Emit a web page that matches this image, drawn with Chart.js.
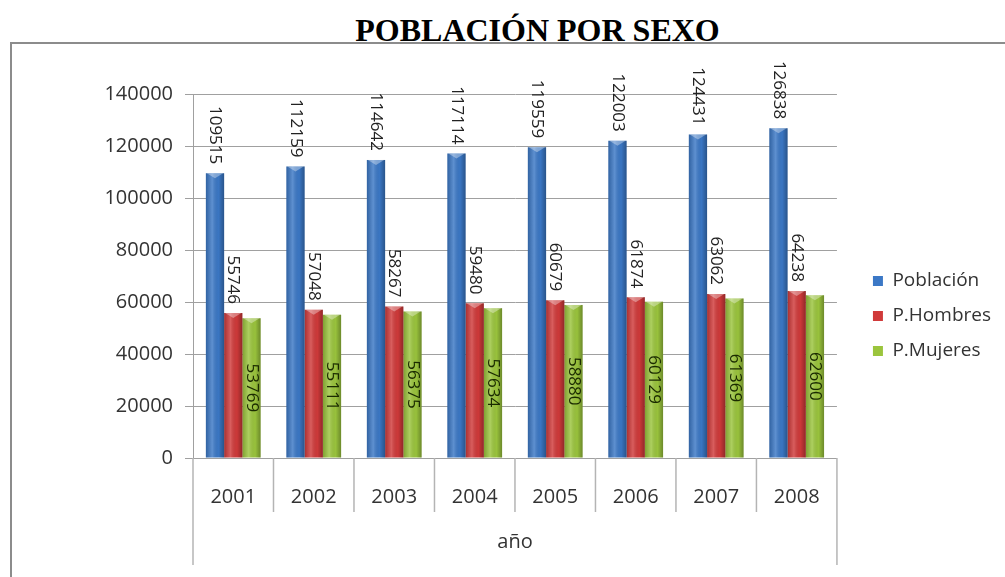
<!DOCTYPE html>
<html>
<head>
<meta charset="utf-8">
<script src="https://cdn.jsdelivr.net/npm/chart.js@4.4.1/dist/chart.umd.min.js"></script>
<style>
  body { margin: 0; background: #fff; width: 1005px; height: 577px; overflow: hidden; position: relative; }
  #title { position: absolute; left: 0; width: 1075px; top: 12px; text-align: center;
    font: bold 32px "Liberation Serif", "Times New Roman", serif; color: #000; }
  #frame { position: absolute; left: 10px; top: 42px; width: 1100px; height: 700px; border: 2px solid #8c8c8c; }
  #wrap { position: absolute; left: 0; top: 45px; width: 1005px; height: 532px; }
</style>
</head>
<body>
<div id="title">POBLACIÓN POR SEXO</div>
<div id="frame"></div>
<div id="wrap"><canvas id="chart"></canvas></div>
<script>
// Datos
const years = ['2001', '2002', '2003', '2004', '2005', '2006', '2007', '2008'];
const poblacion = [109515, 112159, 114642, 117114, 119559, 122003, 124431, 126838];
const hombres = [55746, 57048, 58267, 59480, 60679, 61874, 63062, 64238];
const mujeres = [53769, 55111, 56375, 57634, 58880, 60129, 61369, 62600];
const seriesNames = ['Población', 'P.Hombres', 'P.Mujeres'];
const seriesColors = ['#3b78c6', '#d03a3a', '#9bc53d'];

const font = '"Open Sans", "DejaVu Sans", sans-serif';

// shading for the cylinder look + value labels
const barStyle = {
    id: 'barStyle',
    afterDatasetsDraw(chart) {
        const ctx = chart.ctx;
        chart.data.datasets.forEach((ds, di) => {
            const meta = chart.getDatasetMeta(di);
            meta.data.forEach((bar, i) => {
                const l = bar.x - bar.width / 2, r = bar.x + bar.width / 2;
                const t = bar.y, b = bar.base;
                const g = ctx.createLinearGradient(l, 0, r, 0);
                g.addColorStop(0, 'rgba(0,0,0,0.18)');
                g.addColorStop(0.35, 'rgba(255,255,255,0.18)');
                g.addColorStop(0.7, 'rgba(0,0,0,0.02)');
                g.addColorStop(1, 'rgba(0,0,0,0.3)');
                ctx.save();
                ctx.fillStyle = g;
                ctx.fillRect(l, t, r - l, b - t);
                ctx.fillStyle = 'rgba(255,255,255,0.35)';
                ctx.beginPath();
                ctx.moveTo(l + 1, t);
                ctx.lineTo(r - 1, t);
                ctx.lineTo(bar.x, t + 5);
                ctx.closePath();
                ctx.fill();
                ctx.restore();

                // value label, rotated
                const v = ds.data[i];
                ctx.save();
                ctx.font = '17px ' + font;
                ctx.fillStyle = di === 2 ? '#1a2a00' : '#222';
                ctx.textBaseline = 'middle';
                if (di === 2) {
                    ctx.translate(bar.x, (t + b) / 2);
                    ctx.rotate(Math.PI / 2);
                    ctx.textAlign = 'center';
                } else {
                    ctx.translate(bar.x, t - 9);
                    ctx.rotate(Math.PI / 2);
                    ctx.textAlign = 'right';
                }
                ctx.fillText(String(v), 0, 0);
                ctx.restore();
            });
        });
    }
};

// separators of the category axis
const axisLines = {
    id: 'axisLines',
    afterDraw(chart) {
        const x = chart.scales.x;
        const ctx = chart.ctx;
        const w = (x.right - x.left) / years.length;
        ctx.save();
        ctx.strokeStyle = '#b4b4b4';
        ctx.lineWidth = 1.5;
        for (let i = 0; i <= years.length; i++) {
            const px = x.left + i * w;
            const outer = i === 0 || i === years.length;
            ctx.beginPath();
            ctx.moveTo(px, x.top);
            ctx.lineTo(px, x.top + (outer ? 107 : 54));
            ctx.stroke();
        }
        ctx.restore();
    }
};

// empty spacer axes, only used to place the plot area
const spacer = (pos, size) => ({
    position: pos, display: true,
    grid: { display: false }, border: { display: false }, ticks: { display: false },
    afterFit: s => { if (pos === 'top') s.height = size; else s.width = size; }
});

new Chart(document.getElementById('chart'), {
    type: 'bar',
    data: {
        labels: years,
        datasets: [poblacion, hombres, mujeres].map((d, k) => ({
            label: seriesNames[k],
            data: d,
            backgroundColor: seriesColors[k],
            borderWidth: 0,
            categoryPercentage: 0.68,
            barPercentage: 1
        }))
    },
    options: {
        responsive: true,
        maintainAspectRatio: false,
        animation: false,
        layout: { padding: { left: 0, right: 4, top: 10, bottom: 0 } },
        plugins: {
            title: { display: false },
            tooltip: { enabled: false },
            legend: {
                position: 'right',
                labels: {
                    boxWidth: 10, boxHeight: 10, padding: 16,
                    color: '#333', font: { family: font, size: 19 }
                }
            }
        },
        scales: {
            x: {
                grid: { display: false },
                border: { display: false },
                ticks: { color: '#333', font: { family: font, size: 20 }, padding: 19 },
                title: { display: true, text: 'año', color: '#333', font: { family: font, size: 20 }, padding: { top: 0, bottom: 23 } },
                afterFit: s => { s.height = 119; }
            },
            y: {
                min: 0, max: 140000,
                ticks: { stepSize: 20000, color: '#333', font: { family: font, size: 20 }, padding: 12,
                    callback: v => String(v) },
                grid: { color: '#a0a0a0', lineWidth: 1, tickLength: 8 },
                border: { color: '#a0a0a0' },
                afterFit: s => { s.width = 193; }
            },
            xTop: spacer('top', 39),
            yRight: spacer('right', 20)
        }
    },
    plugins: [barStyle, axisLines]
});
</script>
</body>
</html>
